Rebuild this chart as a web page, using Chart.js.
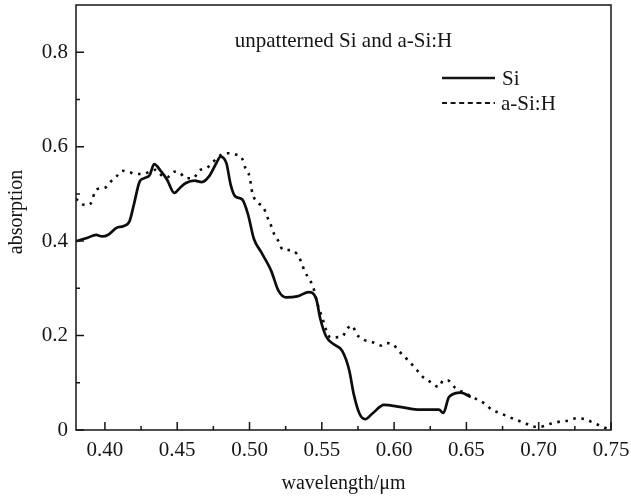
<!DOCTYPE html>
<html>
<head>
<meta charset="utf-8">
<script src="https://cdn.jsdelivr.net/npm/chart.js@4/dist/chart.umd.min.js"></script>
<style>
  html, body { margin: 0; padding: 0; background: #fff; }
  #wrap { width: 631px; height: 497px; position: relative; }
</style>
</head>
<body>
<div id="wrap"><canvas id="c" width="631" height="497"></canvas></div>
<script>
// ---- data ----
const chartTitle = "unpatterned Si and a-Si:H";
const xAxisTitle = "wavelength/\u03bcm";
const yAxisTitle = "absorption";
const seriesNames = ["Si", "a-Si:H"];

const xTickValues = [0.40, 0.45, 0.50, 0.55, 0.60, 0.65, 0.70, 0.75];
const xMinorTickValues = [0.425, 0.475, 0.525, 0.575, 0.625, 0.675, 0.725];
const yTickValues = [0, 0.2, 0.4, 0.6, 0.8];
const yMinorTickValues = [0.1, 0.3, 0.5, 0.7];

const siWavelength = [0.380,0.387,0.394,0.398,0.402,0.408,0.413,0.417,0.420,0.424,0.427,0.431,0.434,0.439,0.443,0.448,0.452,0.456,0.462,0.467,0.472,0.477,0.480,0.484,0.487,0.490,0.495,0.499,0.503,0.508,0.515,0.520,0.525,0.533,0.541,0.546,0.549,0.553,0.558,0.564,0.569,0.572,0.576,0.580,0.585,0.593,0.604,0.618,0.631,0.634,0.638,0.646,0.653];
const siAbsorption = [0.400,0.406,0.413,0.410,0.413,0.428,0.432,0.442,0.477,0.526,0.533,0.540,0.563,0.547,0.530,0.502,0.513,0.523,0.528,0.525,0.537,0.565,0.579,0.565,0.519,0.495,0.488,0.456,0.405,0.377,0.337,0.295,0.281,0.283,0.292,0.279,0.235,0.198,0.182,0.168,0.126,0.077,0.035,0.023,0.035,0.053,0.049,0.043,0.043,0.036,0.070,0.079,0.070];

const asiWavelength = [0.380,0.383,0.387,0.390,0.394,0.400,0.404,0.408,0.412,0.417,0.421,0.426,0.431,0.435,0.440,0.443,0.448,0.452,0.456,0.461,0.465,0.471,0.475,0.480,0.485,0.490,0.495,0.497,0.500,0.502,0.505,0.510,0.512,0.515,0.517,0.520,0.523,0.528,0.533,0.536,0.538,0.541,0.544,0.547,0.549,0.551,0.553,0.556,0.564,0.568,0.571,0.574,0.579,0.585,0.591,0.594,0.599,0.603,0.608,0.612,0.616,0.620,0.625,0.631,0.634,0.637,0.642,0.647,0.656,0.662,0.668,0.674,0.679,0.685,0.691,0.696,0.701,0.708,0.715,0.721,0.726,0.732,0.738,0.744,0.748];
const asiAbsorption = [0.490,0.481,0.476,0.479,0.509,0.513,0.526,0.537,0.549,0.546,0.542,0.542,0.547,0.551,0.537,0.535,0.547,0.544,0.533,0.533,0.549,0.556,0.568,0.582,0.586,0.584,0.574,0.556,0.537,0.501,0.484,0.469,0.453,0.432,0.415,0.400,0.382,0.381,0.372,0.354,0.337,0.321,0.303,0.267,0.249,0.231,0.212,0.196,0.198,0.216,0.221,0.203,0.191,0.186,0.179,0.184,0.182,0.168,0.153,0.140,0.126,0.112,0.102,0.091,0.105,0.105,0.090,0.081,0.067,0.057,0.042,0.035,0.028,0.021,0.014,0.007,0.007,0.013,0.018,0.020,0.025,0.023,0.015,0.007,0.002];

const toPoints = (xs, ys) => xs.map((v, i) => ({ x: v, y: ys[i] }));

const FONT = '"Liberation Serif", "Times New Roman", serif';
const INK = '#151515';

const decor = {
  id: 'decor',
  afterDraw(chart) {
    const { ctx, chartArea: a, scales: { x, y } } = chart;
    ctx.save();
    // frame
    ctx.strokeStyle = INK;
    ctx.lineWidth = 1.5;
    ctx.strokeRect(a.left, a.top, a.right - a.left, a.bottom - a.top);
    // inward tick marks
    ctx.beginPath();
    xTickValues.forEach(v => { const p = x.getPixelForValue(v); ctx.moveTo(p, a.bottom); ctx.lineTo(p, a.bottom - 8); });
    xMinorTickValues.forEach(v => { const p = x.getPixelForValue(v); ctx.moveTo(p, a.bottom); ctx.lineTo(p, a.bottom - 4); });
    yTickValues.forEach(v => { const p = y.getPixelForValue(v); ctx.moveTo(a.left, p); ctx.lineTo(a.left + 8, p); });
    yMinorTickValues.forEach(v => { const p = y.getPixelForValue(v); ctx.moveTo(a.left, p); ctx.lineTo(a.left + 4, p); });
    ctx.stroke();

    ctx.fillStyle = INK;
    // title inside plot
    ctx.font = '21px ' + FONT;
    ctx.textAlign = 'center';
    ctx.textBaseline = 'alphabetic';
    ctx.fillText(chartTitle, (a.left + a.right) / 2, a.top + 42);

    // legend
    const lx0 = 442, lx1 = 495;
    ctx.lineWidth = 2.6;
    ctx.setLineDash([]);
    ctx.beginPath(); ctx.moveTo(lx0, 78); ctx.lineTo(lx1, 78); ctx.stroke();
    ctx.lineWidth = 2.2;
    ctx.setLineDash([5, 3.6]);
    ctx.beginPath(); ctx.moveTo(lx0, 103); ctx.lineTo(lx1, 103); ctx.stroke();
    ctx.setLineDash([]);
    ctx.textAlign = 'left';
    ctx.fillText(seriesNames[0], 502, 85);
    ctx.fillText(seriesNames[1], 501, 110);

    // axis titles
    ctx.font = '20px ' + FONT;
    ctx.textAlign = 'center';
    ctx.fillText(xAxisTitle, (a.left + a.right) / 2, 489);
    ctx.save();
    ctx.translate(22, 212);
    ctx.rotate(-Math.PI / 2);
    ctx.fillText(yAxisTitle, 0, 0);
    ctx.restore();
    ctx.restore();
  }
};

new Chart(document.getElementById('c'), {
  type: 'scatter',
  data: {
    datasets: [
      {
        label: seriesNames[0],
        data: toPoints(siWavelength, siAbsorption),
        showLine: true,
        borderColor: '#0d0d0d',
        borderWidth: 2.7,
        pointRadius: 0,
        cubicInterpolationMode: 'monotone',
        fill: false
      },
      {
        label: seriesNames[1],
        data: toPoints(asiWavelength, asiAbsorption),
        showLine: true,
        borderColor: '#0d0d0d',
        borderWidth: 2.6,
        borderDash: [2.6, 5.6],
        pointRadius: 0,
        cubicInterpolationMode: 'monotone',
        fill: false
      }
    ]
  },
  options: {
    responsive: false,
    animation: false,
    devicePixelRatio: 1,
    layout: { padding: { left: 0, right: 20, top: 5, bottom: 0 } },
    plugins: { legend: { display: false }, tooltip: { enabled: false }, title: { display: false } },
    scales: {
      x: {
        type: 'linear',
        min: 0.38,
        max: 0.75,
        afterBuildTicks: s => { s.ticks = xTickValues.map(v => ({ value: v })); },
        afterFit: s => { s.height = 67; s.paddingLeft = 0; s.paddingRight = 0; },
        grid: { display: false, drawTicks: false },
        border: { display: false },
        ticks: {
          color: INK,
          font: { family: FONT, size: 21 },
          padding: 8,
          maxRotation: 0,
          autoSkip: false,
          callback: v => Number(v).toFixed(2)
        }
      },
      y: {
        type: 'linear',
        min: 0,
        max: 0.9,
        afterBuildTicks: s => { s.ticks = yTickValues.map(v => ({ value: v })); },
        afterFit: s => { s.width = 76; s.paddingTop = 0; s.paddingBottom = 0; },
        grid: { display: false, drawTicks: false },
        border: { display: false },
        ticks: {
          color: INK,
          font: { family: FONT, size: 21 },
          padding: 8,
          autoSkip: false,
          callback: v => (v === 0 ? '0' : Number(v).toFixed(1))
        }
      }
    }
  },
  plugins: [decor]
});
</script>
</body>
</html>
